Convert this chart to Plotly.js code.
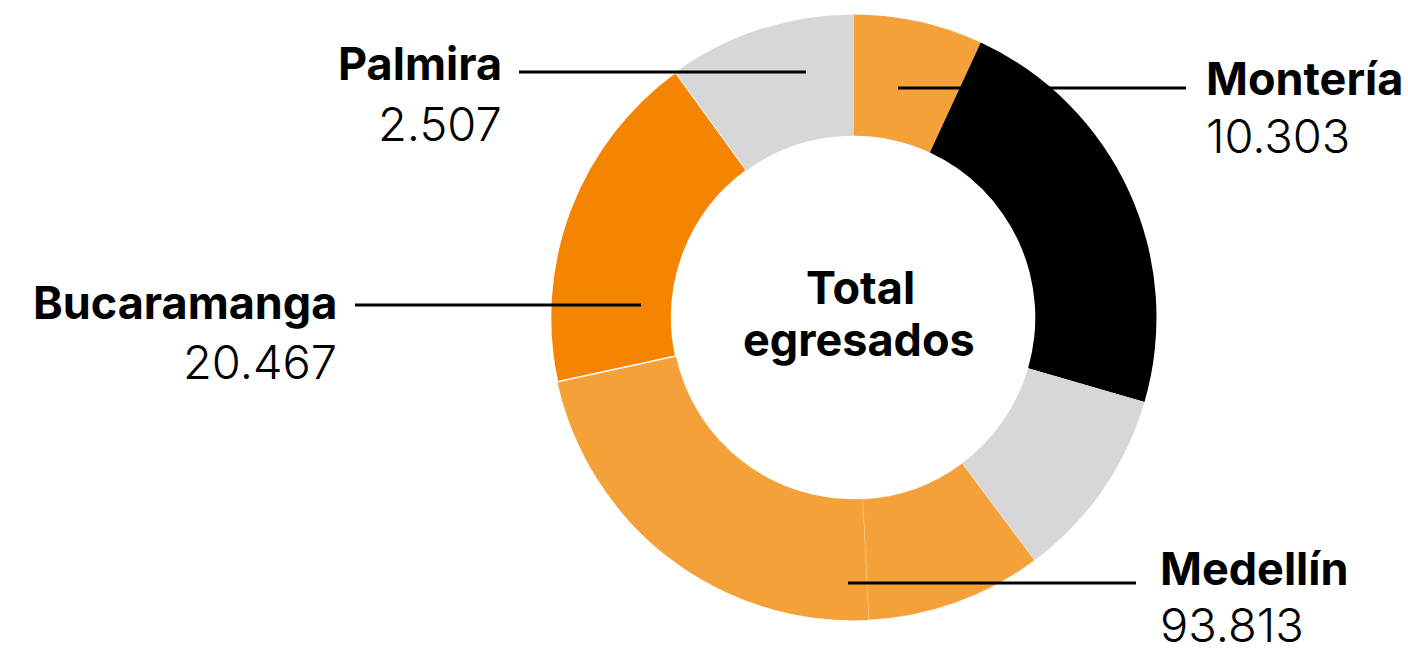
<!DOCTYPE html>
<html>
<head>
<meta charset="utf-8">
<script src="https://cdn.plot.ly/plotly-3.0.1.min.js"></script>
<style>html,body{margin:0;padding:0;background:#fff}#chart{width:1408px;height:652px}</style>
</head>
<body>
<div id="chart"></div>
<script>
// Slice shares (percent of the ring), clockwise from 12 o'clock
const sliceNames = ["Montería A", "Montería B", "Gris 1", "Medellín A", "Medellín B", "Bucaramanga", "Palmira"];
const sliceValues = [6.9, 22.6, 10.3, 9.4, 22.4, 18.4, 10.0];
const sliceColors = ["#F5A13A", "#000000", "#D7D7D9", "#F5A13A", "#F5A13A", "#F58500", "#D7D7D9"];

// Labelled cities and their totals
const cities = ["Palmira", "Montería", "Bucaramanga", "Medellín"];
const totals = ["2.507", "10.303", "20.467", "93.813"];
const centerText = ["Total", "egresados"];

const W = 1408, H = 652;
const px = x => x / W;
const py = y => 1 - y / H;

// label placement (pixels): [text x, anchor, name y, number y, line x0, line x1, line y]
const place = [
  [504, "right", 64, 123, 519, 806, 72],
  [1204, "left", 79, 135, 898, 1186, 88],
  [339, "right", 302, 361, 355, 641, 305],
  [1158, "left", 568, 624, 848, 1136, 583]
];

const nameFont = {family: "Inter, 'Noto Sans', sans-serif", size: 45, color: "#000", weight: 700};
const numFont = {family: "Inter, 'Noto Sans', sans-serif", size: 47, color: "#000", weight: 300};

const annotations = [];
const shapes = [];
cities.forEach((c, i) => {
  const p = place[i];
  annotations.push({xref: "paper", yref: "paper", x: px(p[0]), y: py(p[2]), xanchor: p[1], yanchor: "middle",
    text: "<b>" + c + "</b>", showarrow: false, font: nameFont});
  annotations.push({xref: "paper", yref: "paper", x: px(p[0]), y: py(p[3]), xanchor: p[1], yanchor: "middle",
    text: totals[i], showarrow: false, font: numFont});
  shapes.push({type: "line", xref: "paper", yref: "paper", x0: px(p[4]), x1: px(p[5]), y0: py(p[6]), y1: py(p[6]),
    line: {color: "#000", width: 3}});
});
annotations.push({xref: "paper", yref: "paper", x: px(861), y: py(287), xanchor: "center", yanchor: "middle",
  text: "<b>" + centerText[0] + "</b>", showarrow: false, font: nameFont});
annotations.push({xref: "paper", yref: "paper", x: px(859), y: py(339), xanchor: "center", yanchor: "middle",
  text: "<b>" + centerText[1] + "</b>", showarrow: false, font: nameFont});

const cx = 853.5, cy = 317.5, r = 303;
const trace = {
  type: "pie",
  labels: sliceNames,
  values: sliceValues,
  sort: false,
  direction: "clockwise",
  rotation: 0,
  hole: 0.6,
  textinfo: "none",
  hoverinfo: "none",
  showlegend: false,
  marker: {
    colors: sliceColors,
    line: {color: ["#fff", "#fff", "#fff", "rgba(255,255,255,0.6)", "#fff", "#fff", "#fff"],
           width: [0, 0, 0, 0.8, 0, 1.6, 0]}
  },
  domain: {x: [px(cx - r), px(cx + r)], y: [1 - (cy + r) / H, 1 - (cy - r) / H]}
};

Plotly.newPlot("chart", [trace], {
  width: W, height: H,
  margin: {l: 0, r: 0, t: 0, b: 0},
  paper_bgcolor: "#fff",
  plot_bgcolor: "#fff",
  showlegend: false,
  annotations: annotations,
  shapes: shapes
}, {displayModeBar: false, staticPlot: true});
</script>
</body>
</html>
